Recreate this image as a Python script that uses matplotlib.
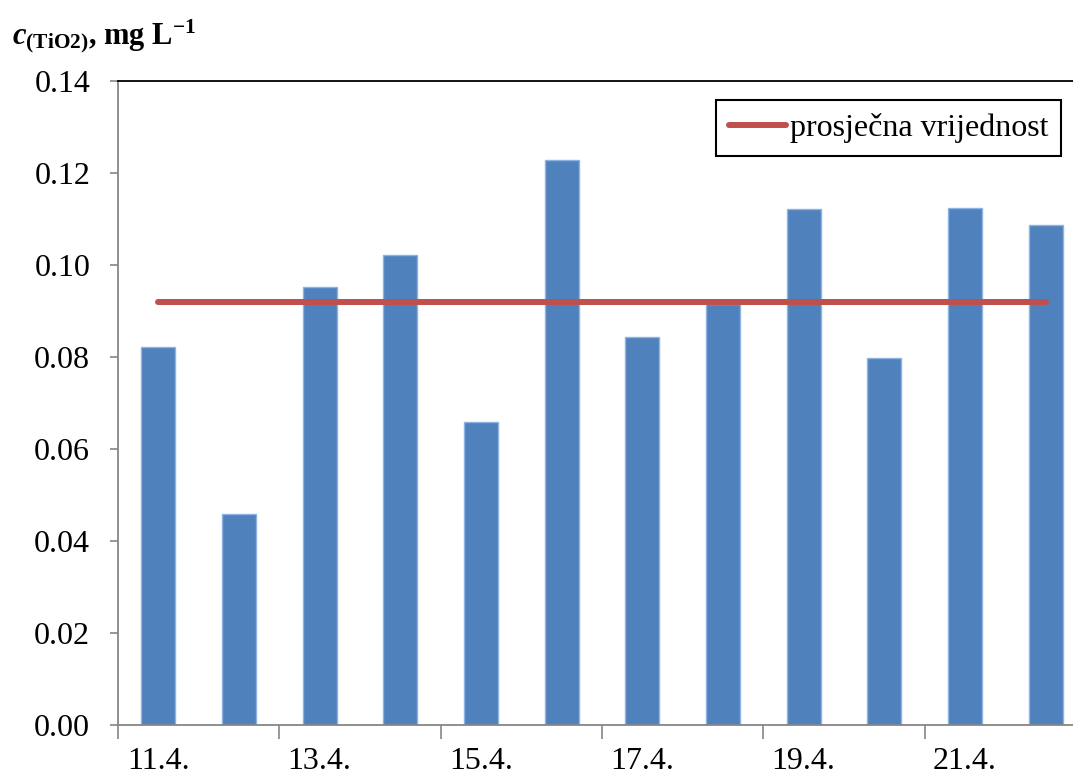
import numpy as np
import matplotlib
matplotlib.use('Agg')
import matplotlib.pyplot as plt

plt.rcParams['font.family'] = 'Liberation Serif'
plt.rcParams['mathtext.fontset'] = 'custom'
plt.rcParams['mathtext.rm'] = 'Liberation Serif'
plt.rcParams['mathtext.it'] = 'Liberation Serif:italic'
plt.rcParams['mathtext.bf'] = 'Liberation Serif:bold'
plt.rcParams['mathtext.bfit'] = 'Liberation Serif:italic:bold'

dates = ['11.4.', '12.4.', '13.4.', '14.4.', '15.4.', '16.4.',
         '17.4.', '18.4.', '19.4.', '20.4.', '21.4.', '22.4.']
c_tio2 = [0.0822, 0.0459, 0.0952, 0.1022, 0.0659, 0.1228,
          0.0843, 0.0915, 0.1122, 0.0798, 0.1124, 0.1087]
mean_val = np.mean(c_tio2)

fig = plt.figure(figsize=(10.73, 7.76), dpi=100)
ax = fig.add_axes([118/1073, 51/776, 968/1073, 644/776])

x = np.arange(len(dates))
ax.bar(x, c_tio2, width=0.42, color='#4F81BD', edgecolor='#8DB3E2', linewidth=1.0, zorder=2)
ax.plot([x[0], x[-1]], [mean_val, mean_val], color='#C0504D', lw=4.3,
        solid_capstyle='round', label='prosječna vrijednost', zorder=3)

ax.set_xlim(-0.5, len(dates) - 0.5)
ax.set_ylim(0, 0.14)
ax.set_yticks(np.arange(0, 0.141, 0.02))
ax.set_yticklabels(['%.2f' % v for v in np.arange(0, 0.141, 0.02)])

# tick marks between categories, labels under every second category
ax.set_xticks(np.arange(-0.5, len(dates), 2))
ax.set_xticklabels([])
ax.set_xticks(x[::2], minor=True)
ax.set_xticklabels(dates[::2], minor=True)
ax.tick_params(axis='x', which='major', length=10, width=1.2, color='#868686', direction='out')
ax.tick_params(axis='x', which='minor', length=0, pad=16, labelsize=23)
ax.tick_params(axis='y', length=6, width=1.2, color='#868686', direction='out', pad=14, labelsize=23)

for s in ['left', 'bottom']:
    ax.spines[s].set_color('#868686')
    ax.spines[s].set_linewidth(1.3)
for s in ['top', 'right']:
    ax.spines[s].set_color('black')
    ax.spines[s].set_linewidth(1.3)

leg = ax.legend(loc='upper right', bbox_to_anchor=(0.974, 0.970), borderaxespad=0,
                fontsize=23, frameon=True, fancybox=False, framealpha=1,
                edgecolor='black', handlelength=1.8, handletextpad=0.1,
                borderpad=0.4)
leg.get_frame().set_linewidth(1.5)

fig.text(12/1073, 1 - 44/776, r'$\mathbfit{c}_{\mathbf{(TiO2)}}$, mg L$^{\mathbf{-1}}$',
         fontsize=22, fontweight='bold', va='baseline', ha='left')

fig.savefig('out.png', dpi=100)
